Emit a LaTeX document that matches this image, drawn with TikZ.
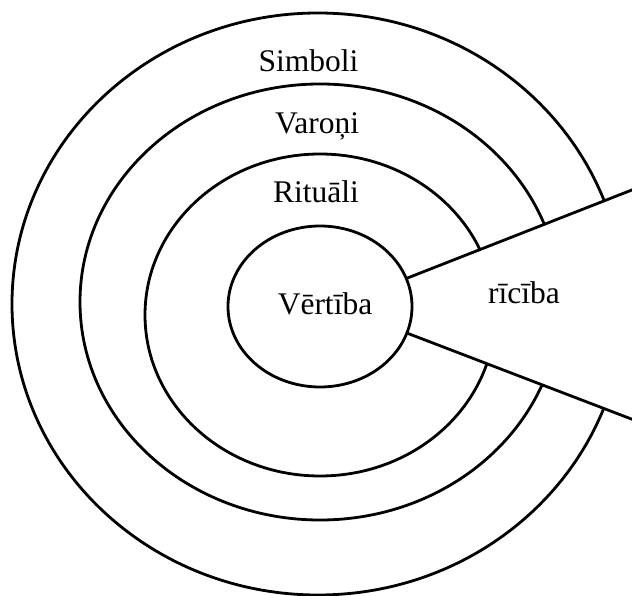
\documentclass[tikz,border=0pt]{standalone}
\usepackage{fontspec}
\setmainfont{Liberation Serif}
\usetikzlibrary{shapes.geometric}
\begin{document}
\begin{tikzpicture}[x=1pt,y=-1pt,
  ring/.style={draw=black,line width=2.8pt},
  lbl/.style={anchor=base,inner sep=0pt,font=\fontsize{31.5}{37}\selectfont}]
\useasboundingbox (0,0) rectangle (632,596);
% rings
\draw[ring] (318,304) ellipse [x radius=306, y radius=291];
\draw[ring] (320,302) ellipse [x radius=240, y radius=218];
\draw[ring] (320,315) ellipse [x radius=175, y radius=161];
% core node (geometry only)
\node[ellipse,minimum width=184pt,minimum height=161pt,inner sep=0pt] (core) at (320,306.5) {};
\coordinate (uend) at (640,186.8);
\coordinate (lend) at (640,422.3);
% wedge cut-out
\fill[white] (core.18) -- (uend) -- (lend) -- (core.-17) -- cycle;
\draw[ring] (core.18) -- (uend);
\draw[ring] (core.-17) -- (lend);
% core ellipse drawn on top
\node[ellipse,minimum width=184pt,minimum height=161pt,inner sep=0pt,fill=white,ring] (coreb) at (320,306.5) {};
% labels
\node[lbl] (simboli) at (308.5,72) {Simboli};
\node[lbl] (varoni) at (317,134) {Varoņi};
\node[lbl] (rituali) at (316,203) {Rituāli};
\node[lbl] (vertiba) at (325,314) {Vērtība};
\node[lbl] (riciba) at (524,303) {rīcība};
\end{tikzpicture}
\end{document}
